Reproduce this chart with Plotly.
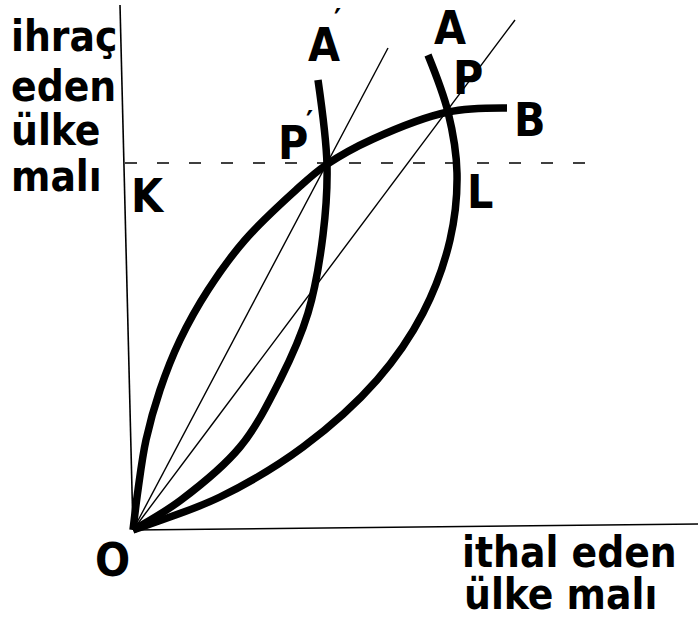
import plotly.graph_objects as go

# offer curves (origin O = 0,0)
ob_x = [0, 5, 13, 27, 47, 75, 112, 163, 193, 240, 315, 374]
ob_y = [0, 40, 90, 140, 190, 240, 290, 340, 365, 391, 418, 422]

oa2_x = [0, 48, 107, 147, 175, 190, 194, 185]
oa2_y = [0, 30, 83, 150, 217, 295, 365, 450]

oa_x = [0, 20, 87, 170, 244, 290, 317, 324, 315, 295]
oa_y = [0, 7, 33, 83, 150, 217, 290, 357, 418, 475]

# price rays from O
ray1_x = [0, 255]
ray1_y = [0, 482]
ray2_x = [0, 382]
ray2_y = [0, 510]

# axes and the K-L dashed level
xaxis_x = [0, 565]
xaxis_y = [0, 6]
yaxis_x = [0, -13]
yaxis_y = [0, 525]
kl_x = [-8, 457]
kl_y = [367, 367]

FONT = "DejaVu Sans Condensed, DejaVu Sans"

fig = go.Figure()
for xs, ys in [(xaxis_x, xaxis_y), (yaxis_x, yaxis_y)]:
    fig.add_trace(go.Scatter(x=xs, y=ys, mode="lines",
                             line=dict(color="black", width=1.6)))
fig.add_trace(go.Scatter(x=kl_x, y=kl_y, mode="lines",
                         line=dict(color="black", width=1.3, dash="12px,20px")))
for xs, ys in [(ray1_x, ray1_y), (ray2_x, ray2_y)]:
    fig.add_trace(go.Scatter(x=xs, y=ys, mode="lines",
                             line=dict(color="black", width=1.4)))
for xs, ys in [(ob_x, ob_y), (oa2_x, oa2_y), (oa_x, oa_y)]:
    fig.add_trace(go.Scatter(x=xs, y=ys, mode="lines",
                             line=dict(color="black", width=7.5, shape="spline", smoothing=1)))

def label(text, x, y, size=46, xanchor="center", weight="bold"):
    fig.add_annotation(x=x, y=y, text=text, showarrow=False, xanchor=xanchor,
                       yanchor="middle",
                       font=dict(family=FONT, size=size, color="black", weight=weight))

# y-axis title, one line each
label("ihraç", -124, 494, size=42, xanchor="left")
label("eden", -124, 444, size=42, xanchor="left")
label("ülke", -124, 400, size=42, xanchor="left")
label("malı", -124, 354, size=42, xanchor="left")
# x-axis title
label("ithal eden", 327, -22, size=42, xanchor="left")
label("ülke malı", 329, -64, size=42, xanchor="left")

label("O", -21, -30)
label("K", 15, 334)
label("L", 347, 338)
label("B", 397, 410)
label("A", 317, 502)
label("P", 335, 452)
label("A", 191, 485)
label("′", 204, 511, size=30)
label("P", 160, 387)
label("′", 176, 409, size=30)

fig.update_layout(
    width=698, height=622,
    margin=dict(l=0, r=0, t=0, b=0),
    paper_bgcolor="white", plot_bgcolor="white",
    showlegend=False,
    xaxis=dict(range=[-133, 565], visible=False, fixedrange=True),
    yaxis=dict(range=[-92, 530], visible=False, fixedrange=True),
)
fig.write_html("out.html", config={"displayModeBar": False},
               post_script="document.body.style.margin='0';document.body.style.overflow='hidden';")
